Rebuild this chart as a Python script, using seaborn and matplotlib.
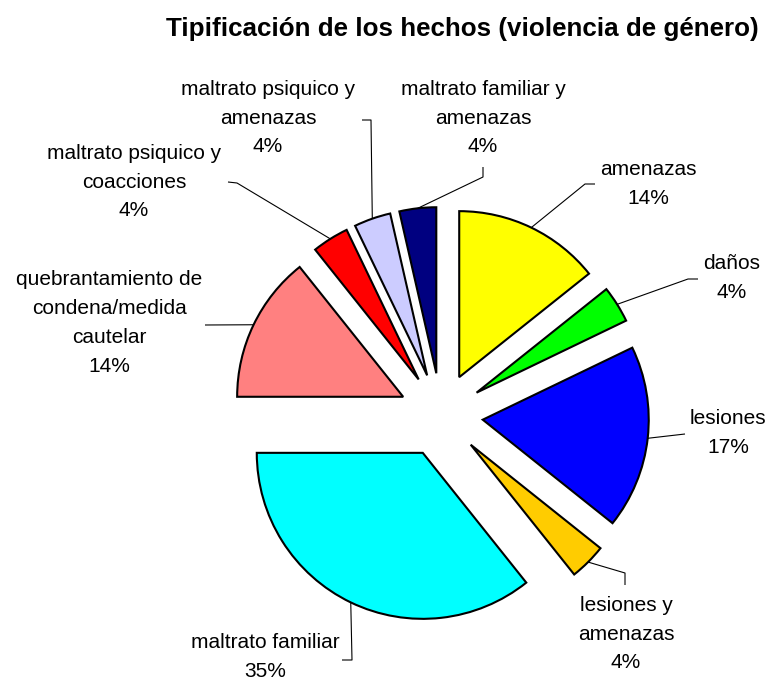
import numpy as np
import matplotlib
matplotlib.use("Agg")
import matplotlib.pyplot as plt
import seaborn as sns

# ---- data ----
categories = [
    "amenazas",
    "daños",
    "lesiones",
    "lesiones y\namenazas",
    "maltrato familiar",
    "quebrantamiento de\ncondena/medida\ncautelar",
    "maltrato psiquico y\ncoacciones",
    "maltrato psiquico y\namenazas",
    "maltrato familiar y\namenazas",
]
counts = [4, 1, 5, 1, 10, 4, 1, 1, 1]
pct_labels = ["14%", "4%", "17%", "4%", "35%", "14%", "4%", "4%", "4%"]
colors = ["#FFFF00", "#00FF00", "#0000FF", "#FFCC00", "#00FFFF",
          "#FF8080", "#FF0000", "#CCCCFF", "#000080"]
title = "Tipificación de los hechos (violencia de género)"

sns.set_theme(style="white")
plt.rcParams["font.family"] = ["Liberation Sans", "DejaVu Sans"]

W, H = 771, 681
CX, CY, R = 441.0, 415.0, 166.0  # pie centre / radius in pixels


def P(px, py):
    """pixel position -> data coords (radius = 1 units)"""
    return ((px - CX) / R, (CY - py) / R)


fig = plt.figure(figsize=(W / 100, H / 100), dpi=100)
ax = fig.add_axes([0, 0, 1, 1])

wedges, _ = ax.pie(
    counts, colors=colors, startangle=90, counterclock=False,
    explode=[0.253] * len(counts), radius=1.0, center=(0, 0),
    wedgeprops=dict(edgecolor="black", linewidth=1.5),
)
ax.set_xlim((0 - CX) / R, (W - CX) / R)
ax.set_ylim((CY - H) / R, CY / R)
ax.set_aspect("equal")
ax.axis("off")

# label placement (text centre, leader elbow points) in pixels
label_pos = [
    ((648, 184), [(585, 184), (595, 184)]),
    ((732, 278), [(688, 279), (698, 279)]),
    ((728, 433), [(685, 434)]),
    ((626, 634), [(625, 573), (625, 585)]),
    ((265, 657), [(352, 660), (342, 660)]),
    ((109, 323), [(205, 325)]),
    ((134, 182), [(237, 183), (228, 182)]),
    ((268, 118), [(371, 120), (362, 120)]),
    ((483, 118), [(483, 177), (483, 167)]),
]

for w, cat, pct, (tpos, elbows) in zip(wedges, categories, pct_labels, label_pos):
    thm = np.deg2rad(0.5 * (w.theta1 + w.theta2))
    ax_x = w.center[0] + w.r * np.cos(thm)
    ax_y = w.center[1] + w.r * np.sin(thm)
    pts = [(ax_x, ax_y)] + [P(*e) for e in elbows]
    xs, ys = zip(*pts)
    ax.plot(xs, ys, color="black", lw=0.8, solid_capstyle="butt")
    tx, ty = P(*tpos)
    ax.text(tx, ty, f"{cat}\n{pct}", ha="center", va="center",
            fontsize=15, color="black", linespacing=1.65)

tx, ty = P(462, 29)
ax.text(tx, ty, title, ha="center", va="center", fontsize=18.7,
        fontweight="bold", color="black")

fig.savefig("out.png", dpi=100)
